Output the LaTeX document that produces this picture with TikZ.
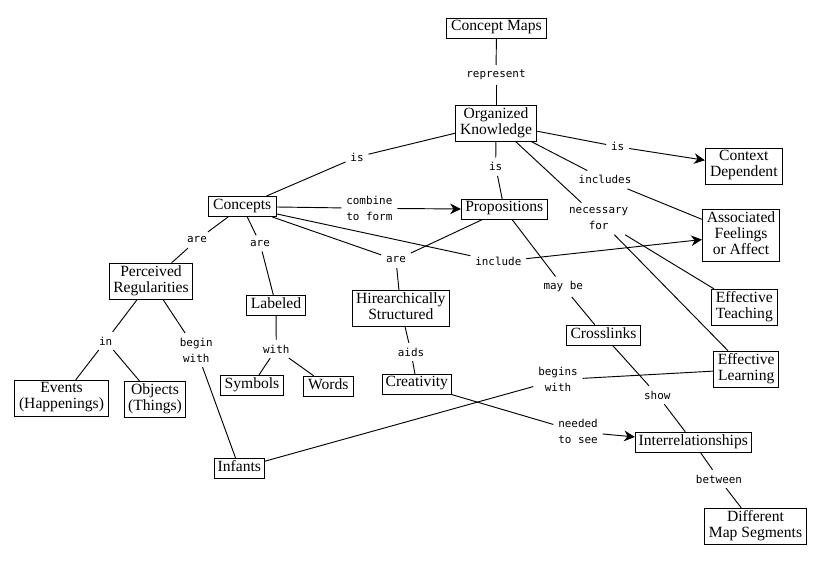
\documentclass[tikz,border=0pt]{standalone}
\usepackage{fontspec}
\setmainfont{Liberation Serif}
\newfontfamily\linkfont{DejaVu Sans Mono}
\usetikzlibrary{arrows.meta}
\tikzset{
  concept/.style={rectangle, draw=black, line width=0.7pt, fill=white, inner sep=0pt, align=center, minimum height=15pt, text depth=3.8pt, font=\fontsize{11.7}{12}\selectfont},
  linkword/.style={inner sep=3.5pt, align=center, font=\linkfont\fontsize{8.2}{12}\selectfont},
  link/.style={draw=black, line width=0.7pt},
  linkarrow/.style={link, -{Stealth[length=8pt, width=8pt, inset=2.5pt]}}
}
\begin{document}
\begin{tikzpicture}[x=0.75pt, y=-0.75pt]
  \useasboundingbox (0, 0) rectangle (824, 572);
  % concepts
  \node[concept, minimum width=75pt] (cMaps) at (496.5, 28.3) {Concept Maps};
  \node[concept, minimum width=61pt, minimum height=27pt] (orgKnow) at (496, 123.3) {Organized\\Knowledge};
  \node[concept, minimum width=57.8pt, minimum height=27pt] (context) at (743.8, 166.3) {Context\\Dependent};
  \node[concept, minimum width=64.5pt] (props) at (504.3, 209.3) {Propositions};
  \node[concept, minimum width=58pt, minimum height=39pt] (assoc) at (741, 235.3) {Associated\\Feelings\\or Affect};
  \node[concept, minimum width=50.8pt] (concepts) at (242.2, 206.5) {Concepts};
  \node[concept, minimum width=62.5pt, minimum height=27pt] (perceived) at (151, 281.3) {Perceived\\Regularities};
  \node[concept, minimum width=44.5pt] (labeled) at (276, 305.3) {Labeled};
  \node[concept, minimum width=72.8pt, minimum height=27pt] (hier) at (400.8, 308.7) {Hirearchically\\Structured};
  \node[concept, minimum width=70.8pt, minimum height=27pt] (events) at (61.5, 398.3) {Events\\(Happenings)};
  \node[concept, minimum width=46pt, minimum height=27pt] (objects) at (155, 399.3) {Objects\\(Things)};
  \node[concept, minimum width=47.5pt] (symbols) at (252, 385.3) {Symbols};
  \node[concept, minimum width=37.5pt] (words) at (328.3, 386.3) {Words};
  \node[concept, minimum width=37.5pt] (infants) at (239.3, 468.3) {Infants};
  \node[concept, minimum width=51.8pt] (creativity) at (416.8, 384.3) {Creativity};
  \node[concept, minimum width=49.5pt, minimum height=27pt] (teaching) at (744.3, 307.3) {Effective\\Teaching};
  \node[concept, minimum width=55.2pt] (crosslinks) at (603.5, 335.3) {Crosslinks};
  \node[concept, minimum width=48.8pt, minimum height=27pt] (learning) at (746.2, 369.3) {Effective\\Learning};
  \node[concept, minimum width=87pt] (inter) at (693.3, 442.3) {Interrelationships};
  \node[concept, minimum width=76.8pt, minimum height=27pt] (segments) at (755.5, 526.3) {Different\\Map Segments};

  % linking words
  \node[linkword] (represent) at (496, 75) {represent};
  \node[linkword] (isConcepts) at (357, 157) {is};
  \node[linkword] (isContext) at (617.7, 146.7) {is};
  \node[linkword] (isProps) at (495.7, 166.7) {is};
  \node[linkword] (includes) at (605, 179.7) {includes};
  \node[linkword] (necessary) at (598.7, 218.7) {necessary\\for};
  \node[linkword] (include) at (498.3, 261.7) {include};
  \node[linkword] (arePerceived) at (197, 240) {are};
  \node[linkword] (areLabeled) at (260, 243.3) {are};
  \node[linkword] (combine) at (369.3, 208.3) {combine\\to form};
  \node[linkword] (areHier) at (396, 260) {are};
  \node[linkword] (in) at (105.7, 341) {in};
  \node[linkword] (beginWith) at (196.3, 350) {begin\\with};
  \node[linkword] (with) at (276.3, 349) {with};
  \node[linkword] (aids) at (411, 352) {aids};
  \node[linkword] (mayBe) at (563.3, 286.7) {may be};
  \node[linkword] (beginsWith) at (558, 379.7) {begins\\with};
  \node[linkword] (show) at (657.3, 395) {show};
  \node[linkword] (needed) at (578, 431.7) {needed\\to see};
  \node[linkword] (between) at (719, 479) {between};

  % connectors
  \draw[link] (cMaps) -- (represent);
  \draw[link] (represent) -- (orgKnow);
  \draw[link] (orgKnow) -- (isConcepts);
  \draw[link] (isConcepts) -- (concepts);
  \draw[link] (orgKnow) -- (isContext);
  \draw[linkarrow] (isContext) -- (context);
  \draw[link] (orgKnow) -- (isProps);
  \draw[link] (isProps) -- (props);
  \draw[link] (orgKnow) -- (includes);
  \draw[link] (includes) -- (assoc);
  \draw[link] (orgKnow) -- (necessary);
  \draw[link] (necessary) -- (teaching);
  \draw[link] (necessary) -- (learning);
  \draw[link] (concepts) -- (combine);
  \draw[linkarrow] (combine) -- (props);
  \draw[link] (concepts) -- (arePerceived);
  \draw[link] (arePerceived) -- (perceived);
  \draw[link] (concepts) -- (areLabeled);
  \draw[link] (areLabeled) -- (labeled);
  \draw[link] (concepts) -- (areHier);
  \draw[link] (props) -- (areHier);
  \draw[link] (areHier) -- (hier);
  \draw[link] (concepts) -- (include);
  \draw[linkarrow] (include) -- (assoc);
  \draw[link] (perceived) -- (in);
  \draw[link] (in) -- (events);
  \draw[link] (in) -- (objects);
  \draw[link] (perceived) -- (beginWith);
  \draw[link] (beginWith) -- (infants);
  \draw[link] (labeled) -- (with);
  \draw[link] (with) -- (symbols);
  \draw[link] (with) -- (words);
  \draw[link] (hier) -- (aids);
  \draw[link] (aids) -- (creativity);
  \draw[link] (creativity) -- (needed);
  \draw[linkarrow] (needed) -- (inter);
  \draw[link] (props) -- (mayBe);
  \draw[link] (mayBe) -- (crosslinks);
  \draw[link] (crosslinks) -- (show);
  \draw[link] (show) -- (inter);
  \draw[link] (inter) -- (between);
  \draw[link] (between) -- (segments);
  \draw[link] (infants) -- (beginsWith);
  \draw[link] (beginsWith) -- (learning);
\end{tikzpicture}
\end{document}
